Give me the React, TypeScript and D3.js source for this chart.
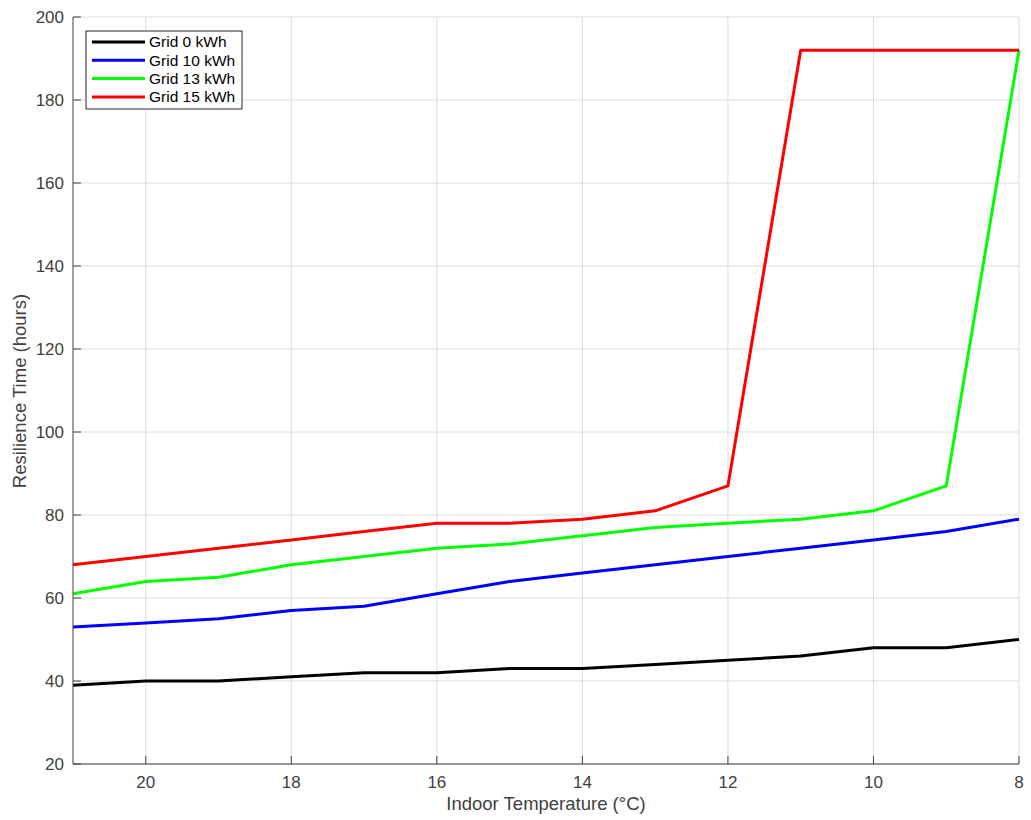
import React from "react";
import * as d3 from "d3";

const temps = [21, 20, 19, 18, 17, 16, 15, 14, 13, 12, 11, 10, 9, 8];
const grid0 = [39, 40, 40, 41, 42, 42, 43, 43, 44, 45, 46, 48, 48, 50];
const grid10 = [53, 54, 55, 57, 58, 61, 64, 66, 68, 70, 72, 74, 76, 79];
const grid13 = [61, 64, 65, 68, 70, 72, 73, 75, 77, 78, 79, 81, 87, 192];
const grid15 = [68, 70, 72, 74, 76, 78, 78, 79, 81, 87, 192, 192, 192, 192];
const seriesNames = ["Grid 0 kWh", "Grid 10 kWh", "Grid 13 kWh", "Grid 15 kWh"];
const seriesColors = ["#000000", "#0000ff", "#00ff00", "#ff0000"];
const xTicks = [20, 18, 16, 14, 12, 10, 8];
const yTicks = [20, 40, 60, 80, 100, 120, 140, 160, 180, 200];

export default function App() {
  const W = 1031, H = 820;
  const L = 73, R = 1019, T = 17, B = 764;
  const x = d3.scaleLinear().domain([21, 8]).range([L, R]);
  const y = d3.scaleLinear().domain([20, 200]).range([B, T]);
  const all = [grid0, grid10, grid13, grid15];
  const line = d3.line<number>().x((_, i) => x(temps[i])).y((d) => y(d));
  const font = "'Liberation Sans', Arial, Helvetica, sans-serif";
  const tc = "#404040";
  return (
    <svg width={W} height={H} style={{ position: "absolute", left: 0, top: 0, background: "#fff" }} fontFamily={font}>
      {xTicks.map((t) => (
        <line key={"gx" + t} x1={x(t)} x2={x(t)} y1={T} y2={B} stroke="#dcdcdc" strokeWidth={1} />
      ))}
      {yTicks.map((t) => (
        <line key={"gy" + t} x1={L} x2={R} y1={y(t)} y2={y(t)} stroke="#dcdcdc" strokeWidth={1} />
      ))}
      {all.map((s, i) => (
        <path key={i} d={line(s) || ""} fill="none" stroke={seriesColors[i]} strokeWidth={3} strokeLinejoin="round" />
      ))}
      <line x1={L} x2={L} y1={T} y2={B} stroke={tc} strokeWidth={1} />
      <line x1={L} x2={R} y1={B} y2={B} stroke={tc} strokeWidth={1} />
      {yTicks.map((t) => (
        <g key={"ty" + t}>
          <line x1={L} x2={L + 8} y1={y(t)} y2={y(t)} stroke={tc} />
          <text x={L - 9} y={y(t)} dy="0.35em" textAnchor="end" fontSize={17} fill={tc}>{t}</text>
        </g>
      ))}
      {xTicks.map((t) => (
        <g key={"tx" + t}>
          <line x1={x(t)} x2={x(t)} y1={B} y2={B - 8} stroke={tc} />
          <text x={x(t)} y={B + 24} textAnchor="middle" fontSize={17} fill={tc}>{t}</text>
        </g>
      ))}
      <text x={(L + R) / 2} y={810} textAnchor="middle" fontSize={18.5} fill={tc}>Indoor Temperature (°C)</text>
      <text transform={`translate(26, ${391}) rotate(-90)`} textAnchor="middle" fontSize={18.5} fill={tc}>Resilience Time (hours)</text>
      <rect x={86} y={31} width={156} height={78} fill="#fff" stroke="#262626" strokeWidth={1} />
      {seriesNames.map((n, i) => (
        <g key={n}>
          <line x1={92} x2={145} y1={42 + i * 18.3} y2={42 + i * 18.3} stroke={seriesColors[i]} strokeWidth={3} />
          <text x={149} y={42 + i * 18.3} dy="0.35em" fontSize={15.5} fill="#000">{n}</text>
        </g>
      ))}
    </svg>
  );
}
